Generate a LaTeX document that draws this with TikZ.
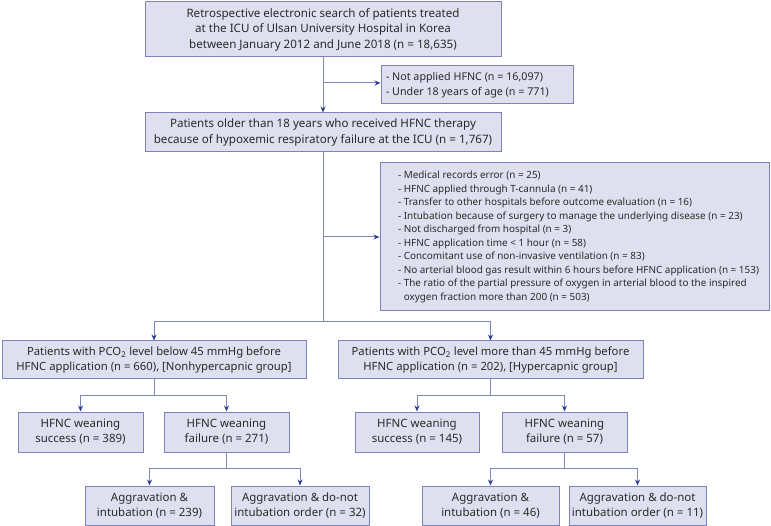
\documentclass[tikz,border=0pt]{standalone}
\usepackage{fontspec}
\setmainfont{Noto Sans}
\usetikzlibrary{arrows.meta}
\definecolor{boxfill}{HTML}{DEE0F0}
\definecolor{boxdraw}{HTML}{7D83BA}
\definecolor{linecol}{HTML}{7F86B8}
\definecolor{tipcol}{HTML}{2E3C8F}
\definecolor{txt}{HTML}{2A2A2A}
\newsavebox\measbox
\newcommand\fitsize[3]{%
  \sbox\measbox{\fontsize{10}{12}\selectfont #3}%
  \pgfmathsetmacro#1{10*#2/\the\wd\measbox}}
\tikzset{
  box/.style={draw=boxdraw, fill=boxfill, line width=1pt, inner sep=0pt, align=center, text=txt},
  excl/.style={draw=boxdraw, fill=boxfill, line width=1pt, inner sep=0pt, text=txt},
  conn/.style={draw=linecol, line width=1pt},
  arr/.style={conn, -{Stealth[length=6pt,width=5pt,color=tipcol]}},
}
\begin{document}%
\fitsize{\sizeA}{273}{Retrospective electronic search of patients treated}%
\fitsize{\sizeG}{254}{Patients with PCO\textsubscript{2} level below 45 mmHg before}%
\fitsize{\sizeW}{116}{Aggravation \& do-not}%
\fitsize{\sizeE}{361}{- No arterial blood gas result within 6 hours before HFNC application (n = 153)}%
\fitsize{\sizeF}{157}{- Not applied HFNC (n = 16,097)}%
\begin{tikzpicture}[x=1pt,y=-1pt]
\useasboundingbox (0,0) rectangle (771,526);
% main boxes
\node[box, minimum width=356, minimum height=55, font=\fontsize{\sizeA}{15.5}\selectfont] (b1) at (323,29.5)
  {Retrospective electronic search of patients treated\\at the ICU of Ulsan University Hospital in Korea\\between January 2012 and June 2018 (n = 18,635)};
\node[box, minimum width=356, minimum height=39, font=\fontsize{\sizeA}{15.2}\selectfont] (b2) at (323,132.5)
  {Patients older than 18 years who received HFNC therapy\\because of hypoxemic respiratory failure at the ICU (n = 1,767)};
\node[excl, minimum height=38, font=\fontsize{\sizeF}{14.3}\selectfont] (e1) at (477,85)
  {\makebox[192pt][l]{\hspace*{5pt}\begin{tabular}{@{}l@{}}- Not applied HFNC (n = 16,097)\\- Under 18 years of age (n = 771)\end{tabular}}};
\node[excl, minimum height=148, font=\fontsize{\sizeE}{13.5}\selectfont] (e2) at (574.5,237)
  {\makebox[389pt][l]{\hspace*{18pt}\begin{tabular}{@{}l@{}}
  - Medical records error (n = 25)\\
  - HFNC applied through T-cannula (n = 41)\\
  - Transfer to other hospitals before outcome evaluation (n = 16)\\
  - Intubation because of surgery to manage the underlying disease (n = 23)\\
  - Not discharged from hospital (n = 3)\\
  - HFNC application time < 1 hour (n = 58)\\
  - Concomitant use of non-invasive ventilation (n = 83)\\
  - No arterial blood gas result within 6 hours before HFNC application (n = 153)\\
  - The ratio of the partial pressure of oxygen in arterial blood to the inspired\\
  \hphantom{- }oxygen fraction more than 200 (n = 503)
  \end{tabular}}};
% group boxes
\node[box, minimum width=304, minimum height=38, font=\fontsize{\sizeG}{15}\selectfont] (g1) at (154,360)
  {Patients with PCO\textsubscript{2} level below 45 mmHg before\\HFNC application (n = 660), [Nonhypercapnic group]};
\node[box, minimum width=305, minimum height=38, font=\fontsize{\sizeG}{15}\selectfont] (g2) at (490.5,360)
  {Patients with PCO\textsubscript{2} level more than 45 mmHg before\\HFNC application (n = 202), [Hypercapnic group]};
% weaning boxes
\begin{scope}[every node/.append style={font=\fontsize{\sizeW}{15}\selectfont}]
\node[box, minimum width=125, minimum height=40] (s1) at (80.5,432) {HFNC weaning\\success (n = 389)};
\node[box, minimum width=125, minimum height=40] (f1) at (226.5,432) {HFNC weaning\\failure (n = 271)};
\node[box, minimum width=124, minimum height=40] (s2) at (417,432) {HFNC weaning\\success (n = 145)};
\node[box, minimum width=125, minimum height=40] (f2) at (564.5,432) {HFNC weaning\\failure (n = 57)};
% outcome boxes
\node[box, minimum width=129, minimum height=39] (a1) at (149.5,505.5) {Aggravation \&\\intubation (n = 239)};
\node[box, minimum width=138, minimum height=39] (d1) at (300,505.5) {Aggravation \& do-not\\intubation order (n = 32)};
\node[box, minimum width=137, minimum height=39] (a2) at (490.5,505.5) {Aggravation \&\\intubation (n = 46)};
\node[box, minimum width=137, minimum height=39] (d2) at (637.5,505.5) {Aggravation \& do-not\\intubation order (n = 11)};
\end{scope}
% connectors
\coordinate (j0) at (323,83);
\draw[arr] (b1.south) -- (b2.north);
\draw[arr] (j0) -- (j0 -| e1.west);
\coordinate (j1) at (323,322);
\draw[conn] (b2.south) -- (j1);
\draw[arr] (b2.south |- e2.west) -- (e2.west);
\draw[arr] (j1) -| (g1.north);
\draw[arr] (j1) -| (g2.north);
\coordinate (j2) at (154,396);
\draw[conn] (g1.south) -- (j2);
\draw[arr] (j2) -| (s1.north);
\draw[arr] (j2) -| (f1.north);
\coordinate (j3) at (490.5,396);
\draw[conn] (g2.south) -- (j3);
\draw[arr] (j3) -| (s2.north);
\draw[arr] (j3) -| (f2.north);
\coordinate (j4) at (226.5,468);
\draw[conn] (f1.south) -- (j4);
\draw[arr] (j4) -| (a1.north);
\draw[arr] (j4) -| (d1.north);
\coordinate (j5) at (564.5,468);
\draw[conn] (f2.south) -- (j5);
\draw[arr] (j5) -| (a2.north);
\draw[arr] (j5) -| (d2.north);
\end{tikzpicture}%
\end{document}
